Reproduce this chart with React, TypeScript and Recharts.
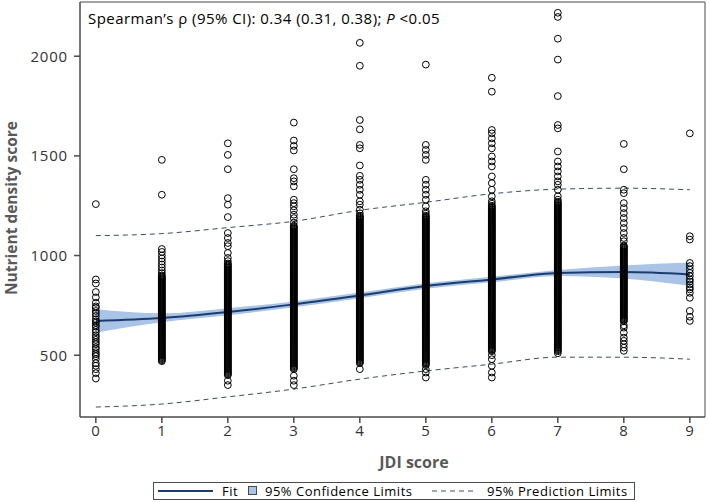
import React from "react";
import {
  ComposedChart,
  XAxis,
  YAxis,
  Scatter,
  Line,
  Area,
  ReferenceArea,
} from "recharts";

// ---- data ----
const jdiLevels = [0, 1, 2, 3, 4, 5, 6, 7, 8, 9];
const fitValues = [672, 687, 717, 755, 800, 847, 880, 913, 917, 905];
const ciLower = [613, 665, 700, 740, 786, 833, 866, 898, 885, 848];
const ciUpper = [730, 710, 736, 770, 814, 861, 894, 928, 950, 965];
const predLower = [240, 255, 291, 330, 380, 421, 455, 490, 490, 480];
const predUpper = [1100, 1110, 1140, 1172, 1227, 1267, 1310, 1333, 1338, 1330];

const xTicks = [0, 1, 2, 3, 4, 5, 6, 7, 8, 9];
const yTicks = [500, 1000, 1500, 2000];
const xDomain = [-0.24, 9.23];
const yDomain = [190, 2272];

const jdi0 = [1258, 880, 860, 817, 790, 763, 745, 738, 722, 710, 697, 680, 670, 663, 650, 643, 627, 615, 600, 590, 577, 565, 555, 540, 530, 515, 505, 495, 480, 460, 447, 430, 410, 383];
const jdi1 = [1480, 1305, 1033, 1018, 1000, 985, 970, 955, 940, 925, 912,
  900, 895, 890, 885, 880, 875, 870, 865, 860, 855, 850, 845, 840, 835, 830, 825, 820, 815, 810, 805, 800, 795, 790, 785, 780, 775, 770, 765, 760, 755, 750, 745, 740, 735, 730, 725, 720, 715, 710, 705, 700, 695, 690, 685, 680, 675, 670, 665, 660, 655, 650, 645, 640, 635, 630, 625, 620, 615, 610, 605, 600, 595, 590, 585, 580, 575, 570, 565, 560, 555, 550, 545, 540, 535, 530, 525, 520, 515, 510, 505, 500, 495, 490, 485, 480, 475, 470];
const jdi2 = [1563, 1505, 1433, 1288, 1255, 1193, 1113, 1088, 1063, 1047, 1013, 988, 972,
  960, 955, 950, 945, 940, 935, 930, 925, 920, 915, 910, 905, 900, 895, 890, 885, 880, 875, 870, 865, 860, 855, 850, 845, 840, 835, 830, 825, 820, 815, 810, 805, 800, 795, 790, 785, 780, 775, 770, 765, 760, 755, 750, 745, 740, 735, 730, 725, 720, 715, 710, 705, 700, 695, 690, 685, 680, 675, 670, 665, 660, 655, 650, 645, 640, 635, 630, 625, 620, 615, 610, 605, 600, 595, 590, 585, 580, 575, 570, 565, 560, 555, 550, 545, 540, 535, 530, 525, 520, 515, 510, 505, 500, 495, 490, 485, 480, 475, 470, 465, 460, 455, 450, 445, 440, 435, 430, 425, 420, 415, 410, 405, 400,
  372, 350];
const jdi3 = [1667, 1577, 1550, 1527, 1433, 1388, 1372, 1347, 1280, 1263, 1247, 1227, 1205, 1188, 1165,
  1150, 1145, 1140, 1135, 1130, 1125, 1120, 1115, 1110, 1105, 1100, 1095, 1090, 1085, 1080, 1075, 1070, 1065, 1060, 1055, 1050, 1045, 1040, 1035, 1030, 1025, 1020, 1015, 1010, 1005, 1000, 995, 990, 985, 980, 975, 970, 965, 960, 955, 950, 945, 940, 935, 930, 925, 920, 915, 910, 905, 900, 895, 890, 885, 880, 875, 870, 865, 860, 855, 850, 845, 840, 835, 830, 825, 820, 815, 810, 805, 800, 795, 790, 785, 780, 775, 770, 765, 760, 755, 750, 745, 740, 735, 730, 725, 720, 715, 710, 705, 700, 695, 690, 685, 680, 675, 670, 665, 660, 655, 650, 645, 640, 635, 630, 625, 620, 615, 610, 605, 600, 595, 590, 585, 580, 575, 570, 565, 560, 555, 550, 545, 540, 535, 530, 525, 520, 515, 510, 505, 500, 495, 490, 485, 480, 475, 470, 465, 460, 455, 450, 445, 440, 435, 430,
  397, 372, 350];
const jdi4 = [2067, 1952, 1680, 1633, 1555, 1538, 1452, 1400, 1380, 1355, 1330, 1305, 1272, 1255, 1230, 1212,
  1200, 1195, 1190, 1185, 1180, 1175, 1170, 1165, 1160, 1155, 1150, 1145, 1140, 1135, 1130, 1125, 1120, 1115, 1110, 1105, 1100, 1095, 1090, 1085, 1080, 1075, 1070, 1065, 1060, 1055, 1050, 1045, 1040, 1035, 1030, 1025, 1020, 1015, 1010, 1005, 1000, 995, 990, 985, 980, 975, 970, 965, 960, 955, 950, 945, 940, 935, 930, 925, 920, 915, 910, 905, 900, 895, 890, 885, 880, 875, 870, 865, 860, 855, 850, 845, 840, 835, 830, 825, 820, 815, 810, 805, 800, 795, 790, 785, 780, 775, 770, 765, 760, 755, 750, 745, 740, 735, 730, 725, 720, 715, 710, 705, 700, 695, 690, 685, 680, 675, 670, 665, 660, 655, 650, 645, 640, 635, 630, 625, 620, 615, 610, 605, 600, 595, 590, 585, 580, 575, 570, 565, 560, 555, 550, 545, 540, 535, 530, 525, 520, 515, 510, 505, 500, 495, 490, 485, 480, 475, 470, 465, 460,
  430];
const jdi5 = [1958, 1555, 1530, 1505, 1480, 1380, 1355, 1330, 1305, 1280, 1247, 1222, 1210,
  1200, 1195, 1190, 1185, 1180, 1175, 1170, 1165, 1160, 1155, 1150, 1145, 1140, 1135, 1130, 1125, 1120, 1115, 1110, 1105, 1100, 1095, 1090, 1085, 1080, 1075, 1070, 1065, 1060, 1055, 1050, 1045, 1040, 1035, 1030, 1025, 1020, 1015, 1010, 1005, 1000, 995, 990, 985, 980, 975, 970, 965, 960, 955, 950, 945, 940, 935, 930, 925, 920, 915, 910, 905, 900, 895, 890, 885, 880, 875, 870, 865, 860, 855, 850, 845, 840, 835, 830, 825, 820, 815, 810, 805, 800, 795, 790, 785, 780, 775, 770, 765, 760, 755, 750, 745, 740, 735, 730, 725, 720, 715, 710, 705, 700, 695, 690, 685, 680, 675, 670, 665, 660, 655, 650, 645, 640, 635, 630, 625, 620, 615, 610, 605, 600, 595, 590, 585, 580, 575, 570, 565, 560, 555, 550, 545, 540, 535, 530, 525, 520, 515, 510, 505, 500, 495, 490, 485, 480, 475, 470, 465, 460, 455, 450,
  430, 413, 388];
const jdi6 = [1892, 1822, 1630, 1613, 1588, 1563, 1538, 1497, 1472, 1447, 1397, 1363, 1330, 1297, 1272, 1260,
  1250, 1245, 1240, 1235, 1230, 1225, 1220, 1215, 1210, 1205, 1200, 1195, 1190, 1185, 1180, 1175, 1170, 1165, 1160, 1155, 1150, 1145, 1140, 1135, 1130, 1125, 1120, 1115, 1110, 1105, 1100, 1095, 1090, 1085, 1080, 1075, 1070, 1065, 1060, 1055, 1050, 1045, 1040, 1035, 1030, 1025, 1020, 1015, 1010, 1005, 1000, 995, 990, 985, 980, 975, 970, 965, 960, 955, 950, 945, 940, 935, 930, 925, 920, 915, 910, 905, 900, 895, 890, 885, 880, 875, 870, 865, 860, 855, 850, 845, 840, 835, 830, 825, 820, 815, 810, 805, 800, 795, 790, 785, 780, 775, 770, 765, 760, 755, 750, 745, 740, 735, 730, 725, 720, 715, 710, 705, 700, 695, 690, 685, 680, 675, 670, 665, 660, 655, 650, 645, 640, 635, 630, 625, 620, 615, 610, 605, 600, 595, 590, 585, 580, 575, 570, 565, 560, 555, 550, 545, 540, 535, 530, 525, 520,
  500, 480, 447, 413, 388];
const jdi7 = [2218, 2197, 2088, 1983, 1800, 1655, 1638, 1522, 1472, 1447, 1422, 1397, 1372, 1355, 1330, 1297, 1280,
  1270, 1265, 1260, 1255, 1250, 1245, 1240, 1235, 1230, 1225, 1220, 1215, 1210, 1205, 1200, 1195, 1190, 1185, 1180, 1175, 1170, 1165, 1160, 1155, 1150, 1145, 1140, 1135, 1130, 1125, 1120, 1115, 1110, 1105, 1100, 1095, 1090, 1085, 1080, 1075, 1070, 1065, 1060, 1055, 1050, 1045, 1040, 1035, 1030, 1025, 1020, 1015, 1010, 1005, 1000, 995, 990, 985, 980, 975, 970, 965, 960, 955, 950, 945, 940, 935, 930, 925, 920, 915, 910, 905, 900, 895, 890, 885, 880, 875, 870, 865, 860, 855, 850, 845, 840, 835, 830, 825, 820, 815, 810, 805, 800, 795, 790, 785, 780, 775, 770, 765, 760, 755, 750, 745, 740, 735, 730, 725, 720, 715, 710, 705, 700, 695, 690, 685, 680, 675, 670, 665, 660, 655, 650, 645, 640, 635, 630, 625, 620, 615, 610, 605, 600, 595, 590, 585, 580, 575, 570, 565, 560, 555, 550, 545, 540, 535, 530, 525, 520,
  510];
const jdi8 = [1560, 1433, 1330, 1313, 1263, 1238, 1213, 1188, 1163, 1138, 1113, 1088, 1072,
  1050, 1045, 1040, 1035, 1030, 1025, 1020, 1015, 1010, 1005, 1000, 995, 990, 985, 980, 975, 970, 965, 960, 955, 950, 945, 940, 935, 930, 925, 920, 915, 910, 905, 900, 895, 890, 885, 880, 875, 870, 865, 860, 855, 850, 845, 840, 835, 830, 825, 820, 815, 810, 805, 800, 795, 790, 785, 780, 775, 770, 765, 760, 755, 750, 745, 740, 735, 730, 725, 720, 715, 710, 705, 700, 695, 690, 685, 680, 675, 670,
  650, 638, 613, 588, 572, 555, 538, 522];
const jdi9 = [1613, 1097, 1080, 963, 947, 930, 913, 897, 880, 870, 855, 840, 830, 813, 788, 722, 693, 672];

const columns = [jdi0, jdi1, jdi2, jdi3, jdi4, jdi5, jdi6, jdi7, jdi8, jdi9];

// ---- derived tables ----
const curveData = jdiLevels.map((x, i) => ({
  x,
  fit: fitValues[i],
  ci: [ciLower[i], ciUpper[i]],
  upl: predUpper[i],
  lpl: predLower[i],
}));

const points = columns.flatMap((col, i) =>
  col.map((y) => ({ x: jdiLevels[i], y }))
);

const FONT = "'Open Sans', 'DejaVu Sans', sans-serif";
const FIT_COLOR = "#1b3d6e";
const CI_COLOR = "#a9c4e6";
const PRED_COLOR = "#3c4a68";
const FRAME = "#4a4a4a";

const Ring = (props: any) => {
  const { cx, cy } = props;
  if (cx == null || cy == null) return null;
  return <circle cx={cx} cy={cy} r={3.4} fill="none" stroke="#000" strokeWidth={1} />;
};

const tickStyle = { fill: "#333", fontSize: 15, fontFamily: FONT, letterSpacing: 0.8 };

export default function App() {
  return (
    <div
      style={{
        position: "absolute",
        left: 0,
        top: 0,
        width: 709,
        height: 502,
        background: "#fff",
        fontFamily: FONT,
      }}
    >
      <ComposedChart
        width={709}
        height={502}
        data={curveData}
        margin={{ top: 2, right: 4, bottom: 45, left: 0 }}
      >
        <XAxis
          dataKey="x"
          type="number"
          domain={xDomain}
          ticks={xTicks}
          allowDataOverflow
          height={40}
          tickSize={6}
          tickMargin={2}
          axisLine={{ stroke: FRAME }}
          tickLine={{ stroke: FRAME, strokeWidth: 1.5 }}
          tick={tickStyle}
        />
        <YAxis
          type="number"
          domain={yDomain}
          ticks={yTicks}
          allowDataOverflow
          width={80}
          tickSize={6}
          tickMargin={6}
          axisLine={{ stroke: FRAME }}
          tickLine={{ stroke: FRAME, strokeWidth: 1.5 }}
          tick={tickStyle}
        />
        <Area
          dataKey="ci"
          type="monotone"
          stroke="none"
          fill={CI_COLOR}
          fillOpacity={1}
          isAnimationActive={false}
          dot={false}
          activeDot={false}
        />
        <Line
          dataKey="upl"
          type="monotone"
          stroke={PRED_COLOR}
          strokeWidth={1}
          strokeDasharray="5 4"
          dot={false}
          activeDot={false}
          isAnimationActive={false}
        />
        <Line
          dataKey="lpl"
          type="monotone"
          stroke={PRED_COLOR}
          strokeWidth={1}
          strokeDasharray="5 4"
          dot={false}
          activeDot={false}
          isAnimationActive={false}
        />
        <Scatter
          data={points}
          dataKey="y"
          shape={Ring}
          isAnimationActive={false}
        />
        <Line
          dataKey="fit"
          type="monotone"
          stroke={FIT_COLOR}
          strokeWidth={2}
          dot={false}
          activeDot={false}
          isAnimationActive={false}
        />
        <ReferenceArea
          x1={xDomain[0]}
          x2={xDomain[1]}
          y1={yDomain[0]}
          y2={yDomain[1]}
          fill="none"
          stroke={FRAME}
          strokeWidth={1}
          ifOverflow="extendDomain"
        />
      </ComposedChart>
      <svg
        width={709}
        height={502}
        style={{ position: "absolute", left: 0, top: 0, pointerEvents: "none" }}
      >
        <text x={88} y={24} fontSize={15} letterSpacing={0.45} fill="#000" fontFamily={FONT}>
          Spearman’s ρ (95% CI): 0.34 (0.31, 0.38);{" "}
          <tspan fontStyle="italic">P</tspan> &lt;0.05
        </text>
        <text
          x={414}
          y={468}
          fontSize={16}
          fontWeight="bold"
          fill="#595959"
          textAnchor="middle"
          fontFamily={FONT}
        >
          JDI score
        </text>
        <text
          x={0}
          y={0}
          transform="translate(17,208) rotate(-90)"
          fontSize={15.5}
          fontWeight="bold"
          fill="#595959"
          textAnchor="middle"
          fontFamily={FONT}
        >
          Nutrient density score
        </text>
        <rect x={153.5} y={482.5} width={481} height={17} fill="#fff" stroke={FRAME} strokeWidth={1} />
        <line x1={158} y1={491} x2={213} y2={491} stroke={FIT_COLOR} strokeWidth={2} />
        <text x={222} y={495.5} fontSize={13} letterSpacing={0.5} fill="#000" fontFamily={FONT}>Fit</text>
        <rect x={248.5} y={486.5} width={8} height={8} fill={CI_COLOR} stroke={FRAME} strokeWidth={1} />
        <text x={265} y={495.5} fontSize={13} letterSpacing={0.5} fill="#000" fontFamily={FONT}>95% Confidence Limits</text>
        <line x1={432} y1={491} x2={476} y2={491} stroke={PRED_COLOR} strokeWidth={1} strokeDasharray="5 4" />
        <text x={487} y={495.5} fontSize={13} letterSpacing={0.5} fill="#000" fontFamily={FONT}>95% Prediction Limits</text>
      </svg>
    </div>
  );
}
